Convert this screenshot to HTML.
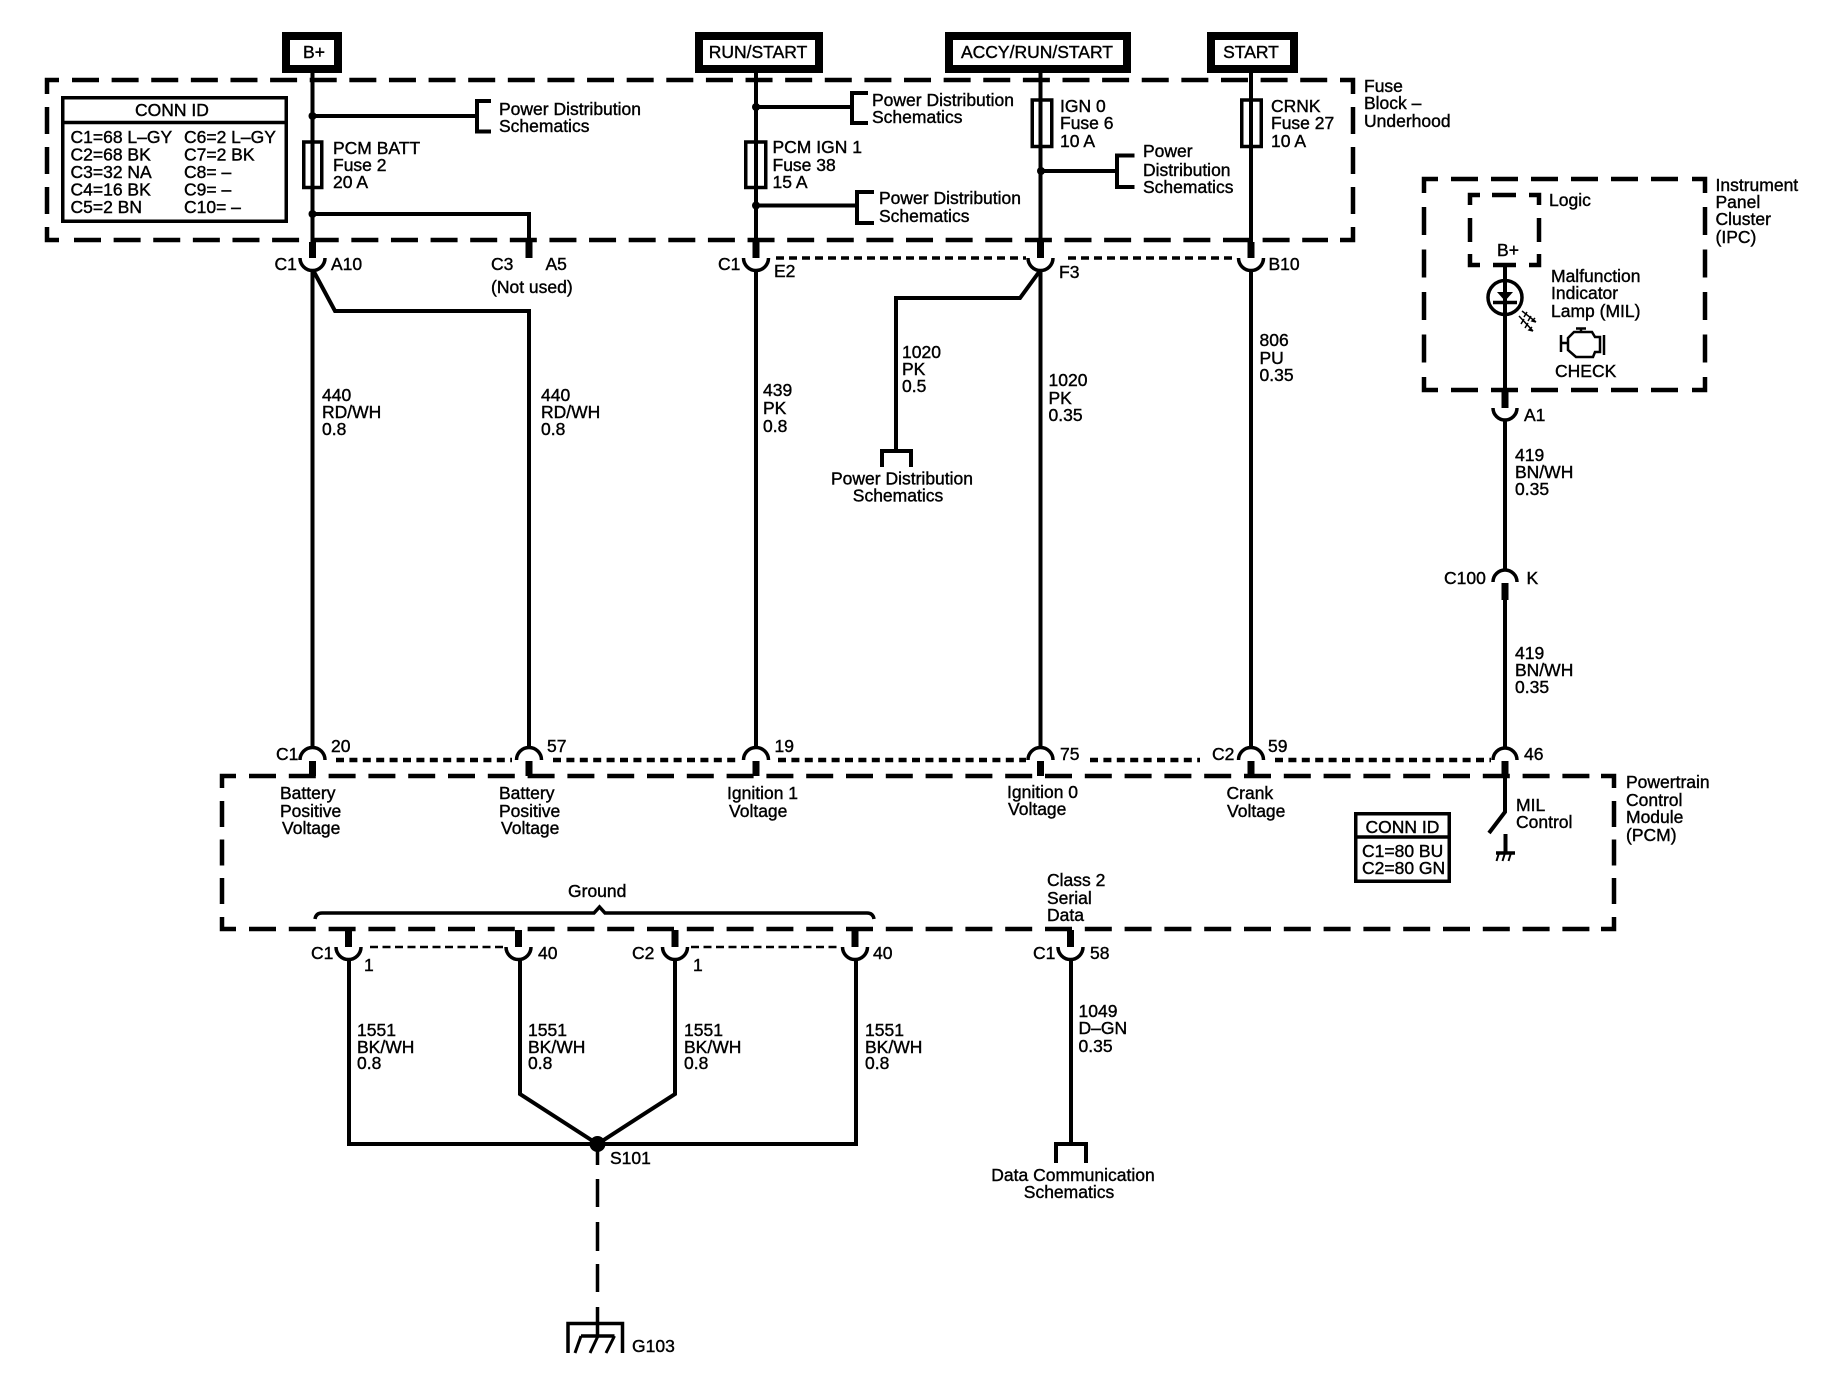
<!DOCTYPE html>
<html>
<head>
<meta charset="utf-8">
<style>
html,body{margin:0;padding:0;background:#fff;width:1834px;height:1392px;overflow:hidden}
svg{display:block}
text{font-family:"Liberation Sans",sans-serif;font-size:17.5px;fill:#000;stroke:#000;stroke-width:.4}
.w{fill:none;stroke:#000;stroke-width:4}
.t{fill:none;stroke:#000;stroke-width:3.5}
.s{fill:none;stroke:#000;stroke-width:7}
.b{fill:none;stroke:#000;stroke-width:4.5}
.f{fill:#fff;stroke:#000;stroke-width:8}
.d{fill:#000;stroke:none}
.m{text-anchor:middle}
</style>
</head>
<body>
<svg width="1834" height="1392" viewBox="0 0 1834 1392" xmlns="http://www.w3.org/2000/svg">
<rect width="1834" height="1392" fill="#fff"/>

<!-- Fuse block dashed box -->
<path class="b" d="M47 94V80H59M1340 80H1353V94M47 227V240H59M1340 240H1353V227"/>
<path class="b" stroke-dasharray="27 12.62" d="M72 80H1328"/>
<path class="b" stroke-dasharray="27 12.62" d="M74 240H1328"/>
<path class="b" stroke-dasharray="27 13" d="M47 107V215"/>
<path class="b" stroke-dasharray="27 13" d="M1353 107V215"/>

<!-- Source boxes -->
<rect class="f" x="286" y="36" width="52" height="33"/>
<rect class="f" x="699" y="36" width="120" height="33"/>
<rect class="f" x="949" y="36" width="178" height="33"/>
<rect class="f" x="1211" y="36" width="83" height="33"/>
<text class="m" x="314" y="58">B+</text>
<text class="m" x="758" y="58">RUN/START</text>
<text class="m" x="1037" y="58">ACCY/RUN/START</text>
<text class="m" x="1251" y="58">START</text>

<!-- CONN ID 1 -->
<rect x="62.75" y="97.75" width="223.5" height="123.5" fill="none" stroke="#000" stroke-width="3.5"/>
<path class="t" d="M62 122.5H287"/>
<text class="m" x="172" y="116">CONN ID</text>
<text x="70.5" y="143">C1=68 L–GY</text><text x="184" y="143">C6=2 L–GY</text>
<text x="70.5" y="160.5">C2=68 BK</text><text x="184" y="160.5">C7=2 BK</text>
<text x="70.5" y="178">C3=32 NA</text><text x="184" y="178">C8= –</text>
<text x="70.5" y="195.5">C4=16 BK</text><text x="184" y="195.5">C9= –</text>
<text x="70.5" y="213">C5=2 BN</text><text x="184" y="213">C10= –</text>

<!-- Wire B+ -->
<path class="w" d="M312.5 73V258M312.5 270V748"/>
<circle class="d" cx="312.5" cy="116" r="4"/>
<path class="w" d="M312.5 116H476"/>
<path class="w" d="M491 101H477V131.5H491"/>
<text x="499" y="115">Power Distribution</text>
<text x="499" y="132">Schematics</text>
<rect class="t" x="303.75" y="142" width="18" height="45.5"/>
<text x="333" y="154">PCM BATT</text>
<text x="333" y="171">Fuse 2</text>
<text x="333" y="188">20 A</text>
<circle class="d" cx="312.5" cy="214" r="4"/>
<path class="w" d="M312.5 214H529V242"/>
<path class="s" d="M312.5 242V258M529 242V258"/>
<path class="t" d="M300 258A12.5 12.5 0 0 0 325 258"/>
<text x="274.5" y="270">C1</text>
<text x="331" y="270">A10</text>
<text x="491" y="270">C3</text>
<text x="545.5" y="270">A5</text>
<text x="491" y="293">(Not used)</text>
<path class="w" d="M313 270L335 311H529V748"/>
<text x="322" y="401">440</text><text x="322" y="418">RD/WH</text><text x="322" y="435">0.8</text>
<text x="541" y="401">440</text><text x="541" y="418">RD/WH</text><text x="541" y="435">0.8</text>

<!-- Wire RUN/START -->
<path class="w" d="M756 73V258M756 270V748"/>
<circle class="d" cx="756" cy="107" r="4"/>
<path class="w" d="M756 107H851"/>
<path class="w" d="M868 93H852V123H868"/>
<text x="872" y="106">Power Distribution</text>
<text x="872" y="123">Schematics</text>
<rect class="t" x="745.75" y="142" width="20" height="45.5"/>
<text x="772.5" y="153">PCM IGN 1</text>
<text x="772.5" y="171">Fuse 38</text>
<text x="772.5" y="188">15 A</text>
<circle class="d" cx="756" cy="205.5" r="4"/>
<path class="w" d="M756 205.5H857"/>
<path class="w" d="M874 192H857V223H874"/>
<text x="879" y="204">Power Distribution</text>
<text x="879" y="222">Schematics</text>
<path class="s" d="M756 242V258"/>
<path class="t" d="M743.5 258A12.5 12.5 0 0 0 768.5 258"/>
<text x="718" y="270">C1</text>
<text x="774" y="277">E2</text>
<text x="763" y="396">439</text><text x="763" y="414">PK</text><text x="763" y="432">0.8</text>

<!-- Wire ACCY -->
<path class="w" d="M1040.5 73V258M1040.5 270V748"/>
<rect class="t" x="1032.25" y="100" width="19.5" height="46.5"/>
<text x="1060" y="112">IGN 0</text>
<text x="1060" y="129">Fuse 6</text>
<text x="1060" y="147">10 A</text>
<circle class="d" cx="1041" cy="171" r="4"/>
<path class="w" d="M1041 171H1117"/>
<path class="w" d="M1134.5 155.5H1117V187H1134.5"/>
<text x="1143" y="157">Power</text>
<text x="1143" y="176">Distribution</text>
<text x="1143" y="193">Schematics</text>
<path class="s" d="M1040.5 242V258"/>
<path class="t" d="M1028 258A12.5 12.5 0 0 0 1053 258"/>
<text x="1059" y="278">F3</text>
<path class="w" d="M1040.5 270L1020 298H896V451"/>
<path class="w" d="M882 467V451H911V467"/>
<text x="902" y="358">1020</text><text x="902" y="375">PK</text><text x="902" y="392">0.5</text>
<text class="m" x="902" y="484.5">Power Distribution</text>
<text class="m" x="898" y="501.5">Schematics</text>
<text x="1048.5" y="386">1020</text><text x="1048.5" y="404">PK</text><text x="1048.5" y="421">0.35</text>

<!-- Wire START -->
<path class="w" d="M1251 73V258M1251 270V748"/>
<rect class="t" x="1241.75" y="100" width="19.5" height="46.5"/>
<text x="1271" y="112">CRNK</text>
<text x="1271" y="129">Fuse 27</text>
<text x="1271" y="147">10 A</text>
<path class="s" d="M1251 242V258"/>
<path class="t" d="M1238.5 258A12.5 12.5 0 0 0 1263.5 258"/>
<text x="1268.5" y="270">B10</text>
<text x="1259.5" y="346">806</text><text x="1259.5" y="364">PU</text><text x="1259.5" y="381">0.35</text>

<!-- Dotted across top connector -->
<path class="t" stroke-dasharray="8 5" d="M776 258H1026"/>
<path class="t" stroke-dasharray="8 5" d="M1068 258H1233"/>

<text x="1364" y="92">Fuse</text>
<text x="1364" y="109">Block –</text>
<text x="1364" y="127">Underhood</text>

<!-- IPC box -->
<path class="b" d="M1424 193V179H1438M1692 179H1705V193M1424 377V390H1438M1692 390H1705V377"/>
<path class="b" stroke-dasharray="27 13" d="M1451 179H1680"/>
<path class="b" stroke-dasharray="27 13" d="M1451 390H1680"/>
<path class="b" stroke-dasharray="28 14.5" d="M1424 207V364"/>
<path class="b" stroke-dasharray="28 14.5" d="M1705 207V364"/>
<text x="1715.5" y="191">Instrument</text>
<text x="1715.5" y="208">Panel</text>
<text x="1715.5" y="225">Cluster</text>
<text x="1715.5" y="243">(IPC)</text>

<!-- Logic box -->
<path class="b" d="M1470 205V195H1480M1492 195H1516M1529 195H1539V205M1470 218V242M1539 218V242M1470 254V265H1480M1493 265H1516M1529 265H1539V254"/>
<text x="1549" y="206">Logic</text>
<text class="m" x="1508" y="256">B+</text>

<!-- MIL wire -->
<path class="w" d="M1505 265V392M1505 420V570M1505 600V748"/>
<circle cx="1505" cy="297.5" r="17" fill="none" stroke="#000" stroke-width="3.5"/>
<path class="d" d="M1497 292H1513L1505 301Z"/>
<path class="t" d="M1493 302.5H1517"/>
<path fill="none" stroke="#000" stroke-width="1.5" d="M1522 311L1536 322M1519 316L1533 331M1536 322l-4-1l3-3M1533 331l-4-1l3-3"/>
<path fill="none" stroke="#000" stroke-width="1.5" d="M1527 312l-3 5M1531 316l-3 5M1524 319l-3 5M1528 323l-3 5"/>
<text x="1551" y="282">Malfunction</text>
<text x="1551" y="299">Indicator</text>
<text x="1551" y="317">Lamp (MIL)</text>
<path fill="none" stroke="#000" stroke-width="2.5" d="M1561 335V352M1561 343H1568M1568 338L1574 332H1592L1595 337H1600V352H1595L1593 357H1576L1568 350ZM1604 335V355M1576 328.5H1586M1581 329V332"/>
<text x="1555" y="377">CHECK</text>
<path class="s" d="M1505 392V408M1505 583V600"/>
<path class="t" d="M1493 408A12 12 0 0 0 1517 408"/>
<path class="t" d="M1493 582A12 12 0 0 1 1517 582"/>
<text x="1524" y="421">A1</text>
<text x="1515" y="461">419</text><text x="1515" y="478">BN/WH</text><text x="1515" y="495">0.35</text>
<text x="1444" y="584">C100</text>
<text x="1526.5" y="584">K</text>
<text x="1515" y="659">419</text><text x="1515" y="676">BN/WH</text><text x="1515" y="693">0.35</text>

<!-- PCM upper connectors -->
<path class="t" d="M300 760A12.5 12.5 0 0 1 325 760M516.5 760A12.5 12.5 0 0 1 541.5 760M743.5 760A12.5 12.5 0 0 1 768.5 760M1028 760A12.5 12.5 0 0 1 1053 760M1238.5 760A12.5 12.5 0 0 1 1263.5 760M1493 760A12 12 0 0 1 1517 760"/>
<path class="s" d="M312.5 761V776M529 761V776M756 761V776M1040.5 761V776M1251 761V776M1505 761V776"/>
<path fill="none" stroke="#000" stroke-width="4.5" stroke-dasharray="8 5.4" d="M336 760H512M553 760H738M778 760H1026M1090 760H1200M1275 760H1491"/>
<text x="276" y="760">C1</text>
<text x="331" y="752">20</text>
<text x="547" y="752">57</text>
<text x="774.5" y="752">19</text>
<text x="1060" y="760">75</text>
<text x="1212" y="760">C2</text>
<text x="1268" y="752">59</text>
<text x="1524" y="760">46</text>

<!-- PCM box -->
<path class="b" d="M222 788V776H236M1601 776H1614V788M222 917V929H236M1601 929H1614V917"/>
<path class="b" stroke-dasharray="27 12.8" d="M249 776H1590"/>
<path class="b" stroke-dasharray="27 12.8" d="M249 929H1590"/>
<path class="b" stroke-dasharray="26 12.5" d="M222 801V904"/>
<path class="b" stroke-dasharray="26 12.5" d="M1614 801V904"/>
<text x="1626" y="788">Powertrain</text>
<text x="1626" y="806">Control</text>
<text x="1626" y="823">Module</text>
<text x="1626" y="841">(PCM)</text>

<text x="280" y="799">Battery</text><text x="280" y="817">Positive</text><text x="282" y="834">Voltage</text>
<text x="499" y="799">Battery</text><text x="499" y="817">Positive</text><text x="501" y="834">Voltage</text>
<text x="727" y="799">Ignition 1</text><text x="729" y="817">Voltage</text>
<text x="1007" y="798">Ignition 0</text><text x="1008" y="815">Voltage</text>
<text x="1226.5" y="799">Crank</text><text x="1227" y="817">Voltage</text>

<!-- MIL control switch -->
<path class="w" d="M1505 776V812L1489 833M1505.5 834V852"/>
<path class="t" d="M1496 853H1515"/>
<path fill="none" stroke="#000" stroke-width="2" d="M1499 853L1496.5 861M1505 853L1502.5 861M1511 853L1508.5 861"/>
<text x="1516" y="811">MIL</text>
<text x="1516" y="828">Control</text>

<!-- CONN ID 2 -->
<rect x="1355.75" y="813.75" width="93.5" height="67.5" fill="none" stroke="#000" stroke-width="3.5"/>
<path class="t" d="M1355 837H1450"/>
<text class="m" x="1402.5" y="833">CONN ID</text>
<text x="1362" y="857">C1=80 BU</text>
<text x="1362" y="874">C2=80 GN</text>

<text x="1047" y="886">Class 2</text>
<text x="1047" y="904">Serial</text>
<text x="1047" y="921">Data</text>

<!-- Ground brace -->
<text x="568" y="897">Ground</text>
<path class="t" d="M315 919Q316 913 322 913H594L599.5 907L605 913H867Q873 913 874 919"/>

<!-- Lower connectors -->
<path class="s" d="M348.5 930V947M518.5 930V947M675 930V947M855 930V947M1070.5 930V947"/>
<path class="t" d="M336 947A12.5 12.5 0 0 0 361 947M506 947A12.5 12.5 0 0 0 531 947M662.5 947A12.5 12.5 0 0 0 687.5 947M842.5 947A12.5 12.5 0 0 0 867.5 947M1058 947A12.5 12.5 0 0 0 1083 947"/>
<path fill="none" stroke="#000" stroke-width="2.5" stroke-dasharray="8 4.5" d="M370 947H503M691 947H840"/>
<text x="311" y="959">C1</text>
<text x="364" y="971">1</text>
<text x="538" y="959">40</text>
<text x="632" y="959">C2</text>
<text x="693" y="971">1</text>
<text x="873" y="959">40</text>
<text x="1033" y="959">C1</text>
<text x="1090" y="959">58</text>

<!-- Ground wires -->
<path class="w" d="M349 959V1144H856V959"/>
<path class="w" d="M520 959V1094L597.5 1144L675 1094V959"/>
<ellipse class="d" cx="597.5" cy="1144" rx="8" ry="8"/>
<text x="357" y="1036">1551</text><text x="357" y="1053">BK/WH</text><text x="357" y="1069">0.8</text>
<text x="528" y="1036">1551</text><text x="528" y="1053">BK/WH</text><text x="528" y="1069">0.8</text>
<text x="684" y="1036">1551</text><text x="684" y="1053">BK/WH</text><text x="684" y="1069">0.8</text>
<text x="865" y="1036">1551</text><text x="865" y="1053">BK/WH</text><text x="865" y="1069">0.8</text>
<text x="610" y="1164">S101</text>
<path class="t" d="M597.5 1150V1165M597.5 1179V1207M597.5 1222V1251M597.5 1264V1292M597.5 1307V1336"/>
<path class="t" d="M568 1353V1323.5H622.5V1353"/>
<path class="t" d="M581 1336H614.5"/>
<path fill="none" stroke="#000" stroke-width="3" d="M581 1336L575 1353M598 1336L590 1353M614.5 1336L606 1353"/>
<text x="632" y="1352">G103</text>

<!-- Data wire -->
<path class="w" d="M1071 959V1144"/>
<path class="w" d="M1056 1163V1144H1086V1163"/>
<text x="1078.5" y="1017">1049</text><text x="1078.5" y="1034">D–GN</text><text x="1078.5" y="1052">0.35</text>
<text class="m" x="1073" y="1181">Data Communication</text>
<text class="m" x="1069" y="1198">Schematics</text>
</svg>
</body>
</html>
